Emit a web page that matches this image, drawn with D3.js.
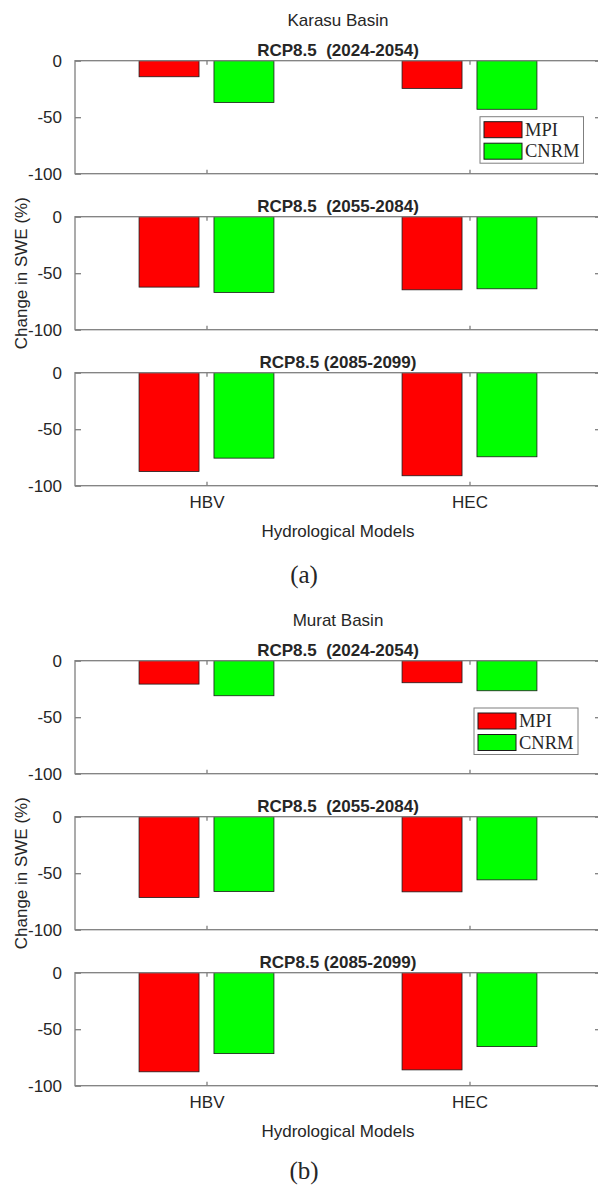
<!DOCTYPE html>
<html>
<head>
<meta charset="utf-8">
<script src="https://cdn.jsdelivr.net/npm/d3@7"></script>
<style>
  body { margin: 0; background: #fff; }
  text { font-family: "Liberation Sans", Arial, sans-serif; fill: #262626; }
</style>
</head>
<body>
<div id="chart"></div>
<script>
// data (% change in SWE)
const models = ["HBV", "HEC"]
const series = ["MPI", "CNRM"]
const colors = ["#ff0000", "#00ff00"]
const periods = ["RCP8.5  (2024-2054)", "RCP8.5  (2055-2084)", "RCP8.5 (2085-2099)"]
const yTicks = [0, -50, -100]

// rows = periods, cols = models
const karasuMPI  = [[-14.2, -24.5], [-62.3, -64.7], [-87.4, -91.2]]
const karasuCNRM = [[-37.0, -43.0], [-67.0, -63.8], [-75.6, -74.4]]
const muratMPI   = [[-20.7, -19.5], [-71.5, -66.5], [-87.7, -86.0]]
const muratCNRM  = [[-31.0, -26.6], [-66.2, -55.9], [-71.6, -65.4]]

const W = 598, H = 1187
const left = 75, right = 601, plotH = 113, step = 156
const axisColor = "#7f7f7f"

const svg = d3.select("#chart").append("svg")
    .attr("width", W)
    .attr("height", H)

const x = d3.scaleLinear().domain([0.5, 2.5]).range([left, right])
const barOff = 0.1424, barW = 0.228

function drawPanel(top, basin, mpi, cnrm, legendPos, letter, letterDy) {
    const g = svg.append("g")

    g.append("text")
        .attr("x", (left + right) / 2)
        .attr("y", top - 34.5)
        .attr("text-anchor", "middle")
        .style("font-size", "17px")
        .text(basin)

    periods.forEach((p, pi) => {
        const t = top + pi * step
        const y = d3.scaleLinear().domain([-100, 0]).range([t + plotH, t])
        const sub = g.append("g")

        // bars
        const rows = []
        models.forEach((m, mi) => {
            rows.push({m: mi, s: 0, v: mpi[pi][mi]})
            rows.push({m: mi, s: 1, v: cnrm[pi][mi]})
        })
        sub.selectAll("rect.bar").data(rows).enter().append("rect")
            .attr("class", "bar")
            .attr("x", d => x(d.m + 1 + (d.s === 0 ? -barOff : barOff) - barW / 2))
            .attr("width", x(barW) - x(0))
            .attr("y", y(0))
            .attr("height", d => y(d.v) - y(0))
            .attr("fill", d => colors[d.s])
            .attr("stroke", "#1a1a1a")
            .attr("stroke-width", 0.8)

        // box
        sub.append("rect")
            .attr("x", left).attr("y", t)
            .attr("width", right - left).attr("height", plotH)
            .attr("fill", "none")
            .attr("stroke", axisColor)
            .attr("stroke-width", 1.3)

        // y axis (left + right, ticks inward)
        const ya = sub.append("g")
            .attr("transform", `translate(${left},0)`)
            .call(d3.axisLeft(y).tickValues(yTicks).tickSize(-6).tickSizeOuter(0)
                .tickPadding(13).tickFormat(d => String(d)))
        ya.select(".domain").remove()
        ya.selectAll("line").attr("stroke", axisColor).attr("stroke-width", 1.3)
        ya.selectAll("text").style("font-size", "17px").attr("fill", "#262626")

        const yr = sub.append("g")
            .attr("transform", `translate(${right},0)`)
            .call(d3.axisRight(y).tickValues(yTicks).tickSize(-6).tickFormat(""))
        yr.select(".domain").remove()
        yr.selectAll("line").attr("stroke", axisColor).attr("stroke-width", 1.3)

        // x ticks bottom + top
        const xb = sub.append("g")
            .attr("transform", `translate(0,${t + plotH})`)
            .call(d3.axisBottom(x).tickValues([1, 2]).tickSize(-4).tickSizeOuter(0)
                .tickPadding(10).tickFormat(d => pi === 2 ? models[d - 1] : ""))
        xb.select(".domain").remove()
        xb.selectAll("line").attr("stroke", axisColor).attr("stroke-width", 1.3)
        xb.selectAll("text").style("font-size", "17px").attr("fill", "#262626")

        const xt = sub.append("g")
            .attr("transform", `translate(0,${t})`)
            .call(d3.axisTop(x).tickValues([1, 2]).tickSize(-4).tickFormat(""))
        xt.select(".domain").remove()
        xt.selectAll("line").attr("stroke", axisColor).attr("stroke-width", 1.3)

        // subplot title
        sub.append("text")
            .attr("x", (left + right) / 2)
            .attr("y", t - 4.5)
            .attr("text-anchor", "middle")
            .style("font-size", "17px")
            .style("font-weight", "bold")
            .style("white-space", "pre")
            .attr("fill", "#000")
            .text(p)
    })

    // y label
    const midY = top + step + plotH / 2
    g.append("text")
        .attr("transform", `translate(26.5,${midY}) rotate(-90)`)
        .attr("text-anchor", "middle")
        .style("font-size", "17px")
        .text("Change in SWE (%)")

    const bottom = top + 2 * step + plotH
    g.append("text")
        .attr("x", (left + right) / 2)
        .attr("y", bottom + 51)
        .attr("text-anchor", "middle")
        .style("font-size", "17px")
        .text("Hydrological Models")

    g.append("text")
        .attr("x", (left + right) / 2 - 34)
        .attr("y", bottom + letterDy)
        .attr("text-anchor", "middle")
        .style("font-family", "'Liberation Serif', 'Times New Roman', serif")
        .style("font-size", "25px")
        .attr("fill", "#000")
        .text(letter)

    // legend
    const lg = g.append("g").attr("transform", `translate(${legendPos[0]},${legendPos[1]})`)
    lg.append("rect")
        .attr("width", legendPos[2]).attr("height", 46.5)
        .attr("fill", "#fff")
        .attr("stroke", "#7f7f7f")
        .attr("stroke-width", 1)
    series.forEach((s, i) => {
        lg.append("rect")
            .attr("x", 4).attr("y", 5 + i * 21.5)
            .attr("width", 38).attr("height", 16)
            .attr("fill", colors[i])
            .attr("stroke", "#1a1a1a")
            .attr("stroke-width", 1)
        lg.append("text")
            .attr("x", 45).attr("y", 19 + i * 21.5)
            .style("font-family", "'Liberation Serif', 'Times New Roman', serif")
            .style("font-size", "18.5px")
            .attr("fill", "#000")
            .text(s)
    })
}

drawPanel(60.7, "Karasu Basin", karasuMPI, karasuCNRM, [480, 116.7, 103.5], "(a)", 97)
drawPanel(660.7, "Murat Basin", muratMPI, muratCNRM, [474, 708, 104], "(b)", 93.5)
</script>
</body>
</html>
